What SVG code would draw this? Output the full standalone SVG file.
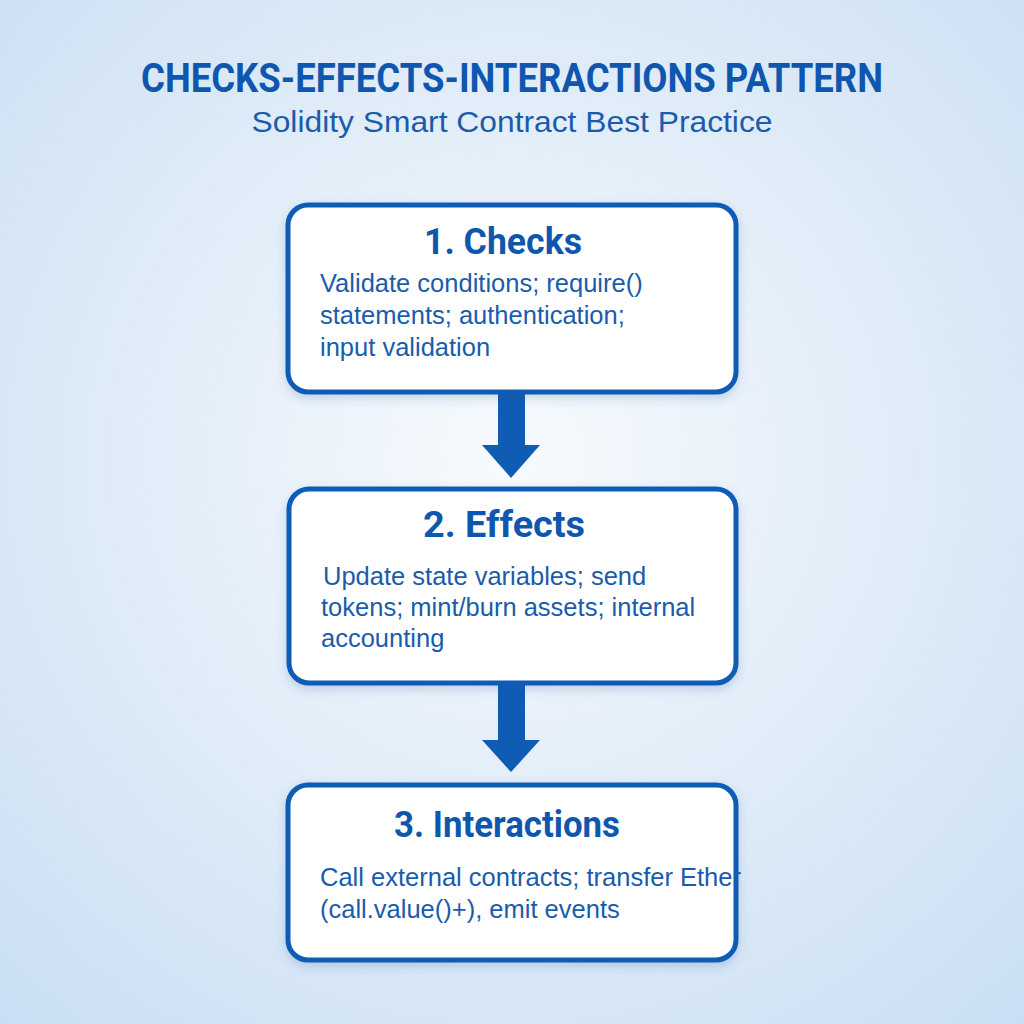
<svg xmlns="http://www.w3.org/2000/svg" width="1024" height="1024" viewBox="0 0 1024 1024">
<defs>
<radialGradient id="bg" cx="50%" cy="45%" r="75%">
<stop offset="0" stop-color="#f7fafd"/><stop offset="1" stop-color="#c9def3"/>
</radialGradient>
<filter id="sh" x="-10%" y="-10%" width="120%" height="130%"><feDropShadow dx="0" dy="4" stdDeviation="5" flood-color="#1a4f8f" flood-opacity="0.2"/></filter>
</defs>
<style>
.box{fill:#fff;stroke:#0f5cb5;stroke-width:5}
.h{font-family:Roboto,"Liberation Sans",sans-serif;font-weight:bold;font-size:36px;fill:#0f57ae;text-anchor:middle}
.b{font-family:"Liberation Sans",Arial,sans-serif;font-size:25.5px;fill:#1a5cab}
.arr{fill:#0f5cb5}
</style>
<rect width="1024" height="1024" fill="url(#bg)"/>
<text x="512" y="92" text-anchor="middle" font-family="Roboto,'Liberation Sans',sans-serif" font-weight="bold" font-size="40" fill="#0f57ae" textLength="742" lengthAdjust="spacingAndGlyphs">CHECKS-EFFECTS-INTERACTIONS PATTERN</text>
<text x="512" y="132" text-anchor="middle" font-family="'Liberation Sans',Arial,sans-serif" font-size="29" fill="#1a5cab" textLength="521" lengthAdjust="spacingAndGlyphs">Solidity Smart Contract Best Practice</text>
<g id="connectors">
<path class="arr" d="M498 392H525V445H540L511 478L482 445H498Z"/>
<path class="arr" d="M498 683H525V740H540L511 772L482 740H498Z"/>
</g>
<g id="checks">
<rect class="box" x="288" y="205" width="448" height="187" rx="20" filter="url(#sh)"/>
<text class="h" x="503" y="254" textLength="158" lengthAdjust="spacingAndGlyphs">1. Checks</text>
<text class="b" x="320" y="292">Validate conditions; require()</text>
<text class="b" x="320" y="324">statements; authentication;</text>
<text class="b" x="320" y="356">input validation</text>
</g>
<g id="effects">
<rect class="box" x="289" y="489" width="447" height="194" rx="20" filter="url(#sh)"/>
<text class="h" x="504" y="537" textLength="162" lengthAdjust="spacingAndGlyphs">2. Effects</text>
<text class="b" x="323" y="585">Update state variables; send</text>
<text class="b" x="321" y="616">tokens; mint/burn assets; internal</text>
<text class="b" x="321" y="647">accounting</text>
</g>
<g id="interactions">
<rect class="box" x="288" y="785" width="448" height="175" rx="20" filter="url(#sh)"/>
<text class="h" x="507" y="837" textLength="226" lengthAdjust="spacingAndGlyphs">3. Interactions</text>
<text class="b" x="320" y="886">Call external contracts; transfer Ether</text>
<text class="b" x="320" y="918">(call.value()+), emit events</text>
</g>
</svg>
